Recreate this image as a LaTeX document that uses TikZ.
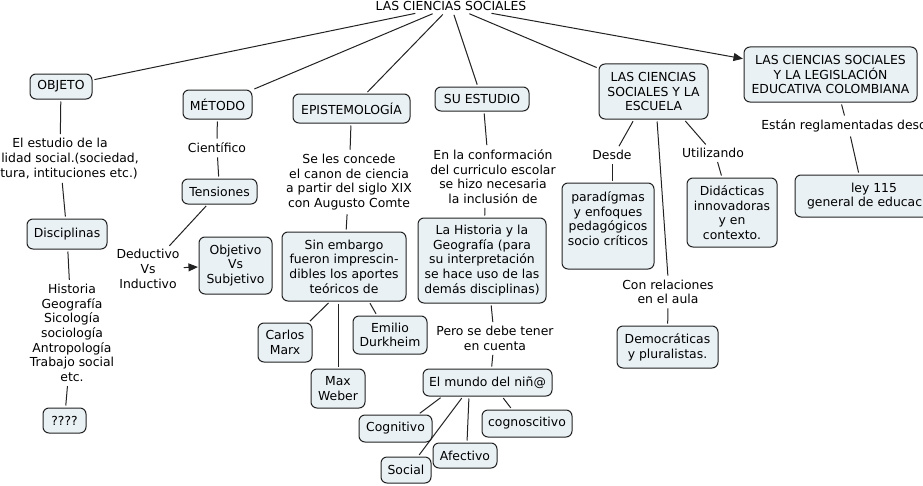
\documentclass[tikz,border=0pt]{standalone}
\usepackage{fontspec}
\setmainfont{DejaVu Sans}
\usetikzlibrary{arrows.meta}
\definecolor{boxfill}{HTML}{E9F1F4}
\definecolor{edgec}{HTML}{222222}
\begin{document}
\begin{tikzpicture}[x=0.75pt,y=-0.75pt,
  every node/.style={font=\fontsize{9.3}{11}\selectfont, align=center, inner sep=1pt, text=black},
  box/.style={draw=edgec, line width=0.75pt, fill=boxfill, rounded corners=4.5pt, inner sep=2pt},
  bx/.style n args={2}{box, minimum width={#1*0.75pt}, minimum height={#2*0.75pt}},
  lbl/.style={inner sep=1.5pt},
  conn/.style={draw=edgec, line width=0.75pt, shorten <=1.5pt, shorten >=1.5pt},
  arr/.style={conn, -{Triangle[length=7pt,width=6pt]}, shorten >=0.5pt},
]
\clip (0,0) rectangle (923,485);
\fill[white] (0,0) rectangle (923,485);

% root
\node[lbl] (root) at (451,6) {LAS CIENCIAS SOCIALES};

% level 1
\node[bx={62}{25}] (objeto) at (61,86.5) {OBJETO};
\node[bx={69}{29}] (metodo) at (217.5,104.5) {MÉTODO};
\node[bx={117}{29}] (epis) at (351.5,108.5) {EPISTEMOLOGÍA};
\node[bx={94}{24}] (suest) at (482,99) {SU ESTUDIO};
\node[bx={109}{55}] (escuela) at (653.5,91.5) {LAS CIENCIAS\\SOCIALES Y LA\\ESCUELA};
\node[bx={173}{55}] (legis) at (830.5,74.5) {LAS CIENCIAS SOCIALES\\Y LA LEGISLACIÓN\\EDUCATIVA COLOMBIANA};

% OBJETO branch
\node[lbl] (lobj) at (60,158.5) {El estudio de la\\realidad social.(sociedad,\\cultura, intituciones etc.)};
\node[bx={80}{30}] (disc) at (67,234) {Disciplinas};
\node[lbl] (lista) at (72,333) {Historia\\Geografía\\Sicología\\sociología\\Antropología\\Trabajo social\\etc.};
\node[bx={43}{25}] (interr) at (64.5,420.5) {????};

% MÉTODO branch
\node[lbl] (cient) at (217,148) {Científico};
\node[bx={75}{25}] (tens) at (219.5,191.5) {Tensiones};
\node[lbl] (deduc) at (148,269) {Deductivo\\Vs\\Inductivo};
\node[bx={73}{57}] (objet) at (235.5,265.5) {Objetivo\\Vs\\Subjetivo};

% EPISTEMOLOGÍA branch
\node[lbl] (lepis) at (349,182) {Se les concede\\el canon de ciencia\\a partir del siglo XIX\\con Augusto Comte};
\node[bx={124}{69}] (sinemb) at (344,266.5) {Sin embargo\\fueron imprescin-\\dibles los aportes\\teóricos de};
\node[bx={54}{39}] (carlos) at (285,342.5) {Carlos\\Marx};
\node[bx={54}{39}] (max) at (338,388.5) {Max\\Weber};
\node[bx={74}{38}] (emilio) at (390,335) {Emilio\\Durkheim};

% SU ESTUDIO branch
\node[lbl] (lsuest) at (493,176.5) {En la conformación\\del curriculo escolar\\se hizo necesaria\\la inclusión de};
\node[bx={128}{85}] (hist) at (482,260.5) {La Historia y la\\Geografía (para\\su interpretación\\se hace uso de las\\demás disciplinas)};
\node[lbl] (pero) at (495,338.5) {Pero se debe tener\\en cuenta};
\node[bx={129}{27}] (mundo) at (487.5,382.5) {El mundo del niñ@};
\node[bx={73}{27}] (cognit) at (395.5,428.5) {Cognitivo};
\node[bx={50}{26}] (social) at (406,470) {Social};
\node[bx={64}{25}] (afect) at (465,455.5) {Afectivo};
\node[bx={90}{27}] (cognos) at (527,423.5) {cognoscitivo};

% ESCUELA branch
\node[lbl] (desde) at (612,155) {Desde};
\node[bx={92}{86}] (parad) at (608,226) {paradígmas\\y enfoques\\pedagógicos\\socio críticos\\\mbox{}};
\node[lbl] (utiliz) at (713,153) {Utilizando};
\node[bx={90}{69}] (didac) at (732,212.5) {Didácticas\\innovadoras\\y en\\contexto.};
\node[lbl] (conrel) at (668,292) {Con relaciones\\en el aula};
\node[bx={101}{42}] (democ) at (667.5,347) {Democráticas\\y pluralistas.};

% LEGISLACIÓN branch
\node[lbl] (estan) at (848,126) {Están reglamentadas desde};
\node[bx={158}{42}] (ley) at (874,196) {ley 115\\general de educación};

% connectors from root
\draw[conn] (root) -- (objeto);
\draw[conn] (root) -- (metodo);
\draw[conn] (root) -- (epis);
\draw[conn] (root) -- (suest);
\draw[conn] (root) -- (escuela);
\draw[arr] (root) -- (legis);

% OBJETO
\draw[conn] (objeto) -- (lobj);
\draw[conn] (lobj) -- (disc);
\draw[conn] (disc) -- (lista);
\draw[conn] (lista) -- (interr);

% MÉTODO
\draw[conn] (metodo) -- (cient);
\draw[conn] (cient) -- (tens);
\draw[conn] (tens) -- (deduc);
\draw[arr] (deduc) -- (objet);

% EPISTEMOLOGÍA
\draw[conn] (epis) -- (lepis);
\draw[conn] (lepis) -- (sinemb);
\draw[conn] ([xshift=-10.5pt]sinemb.south) -- ([xshift=-3pt]carlos.north east);
\draw[conn] ([xshift=-4.5pt]sinemb.south) -- (max.north);
\draw[conn] ([xshift=18.75pt]sinemb.south) -- ([xshift=-9.75pt]emilio.north);

% SU ESTUDIO
\draw[conn] ([xshift=1.5pt]suest.south) -- ([xshift=-4.5pt]lsuest.north);
\draw[conn] ([xshift=-6pt]lsuest.south) -- ([xshift=2pt]hist.north);
\draw[conn] ([xshift=6.75pt]hist.south) -- ([xshift=-1.5pt]pero.north);
\draw[conn] ([xshift=-1.5pt]pero.south) -- ([xshift=3pt]mundo.north);
\draw[conn] ([xshift=-34pt]mundo.south) -- ([xshift=17pt]cognit.north);
\draw[conn] ([xshift=-18.4pt]mundo.south) -- ([xshift=9pt]social.north);
\draw[conn] ([xshift=-13.9pt]mundo.south) -- ([xshift=1.5pt]afect.north);
\draw[conn] ([xshift=10.9pt]mundo.south) -- ([xshift=-11.25pt]cognos.north);

% ESCUELA
\draw[conn] ([xshift=-14.6pt]escuela.south) -- ([xshift=4.5pt]desde.north);
\draw[conn] (desde.south) -- ([xshift=3pt]parad.north);
\draw[conn] ([xshift=2.6pt]escuela.south) -- (conrel.north);
\draw[conn] (conrel) -- (democ);
\draw[conn] ([xshift=22.9pt]escuela.south) -- ([xshift=-4.5pt]utiliz.north);
\draw[conn] ([xshift=3pt]utiliz.south) -- ([xshift=-7.5pt]didac.north);

% LEGISLACIÓN
\draw[conn] ([xshift=7.9pt]legis.south) -- ([xshift=-2.25pt]estan.north);
\draw[conn] ([xshift=1.5pt]estan.south) -- ([xshift=-11.25pt]ley.north);
\end{tikzpicture}
\end{document}
